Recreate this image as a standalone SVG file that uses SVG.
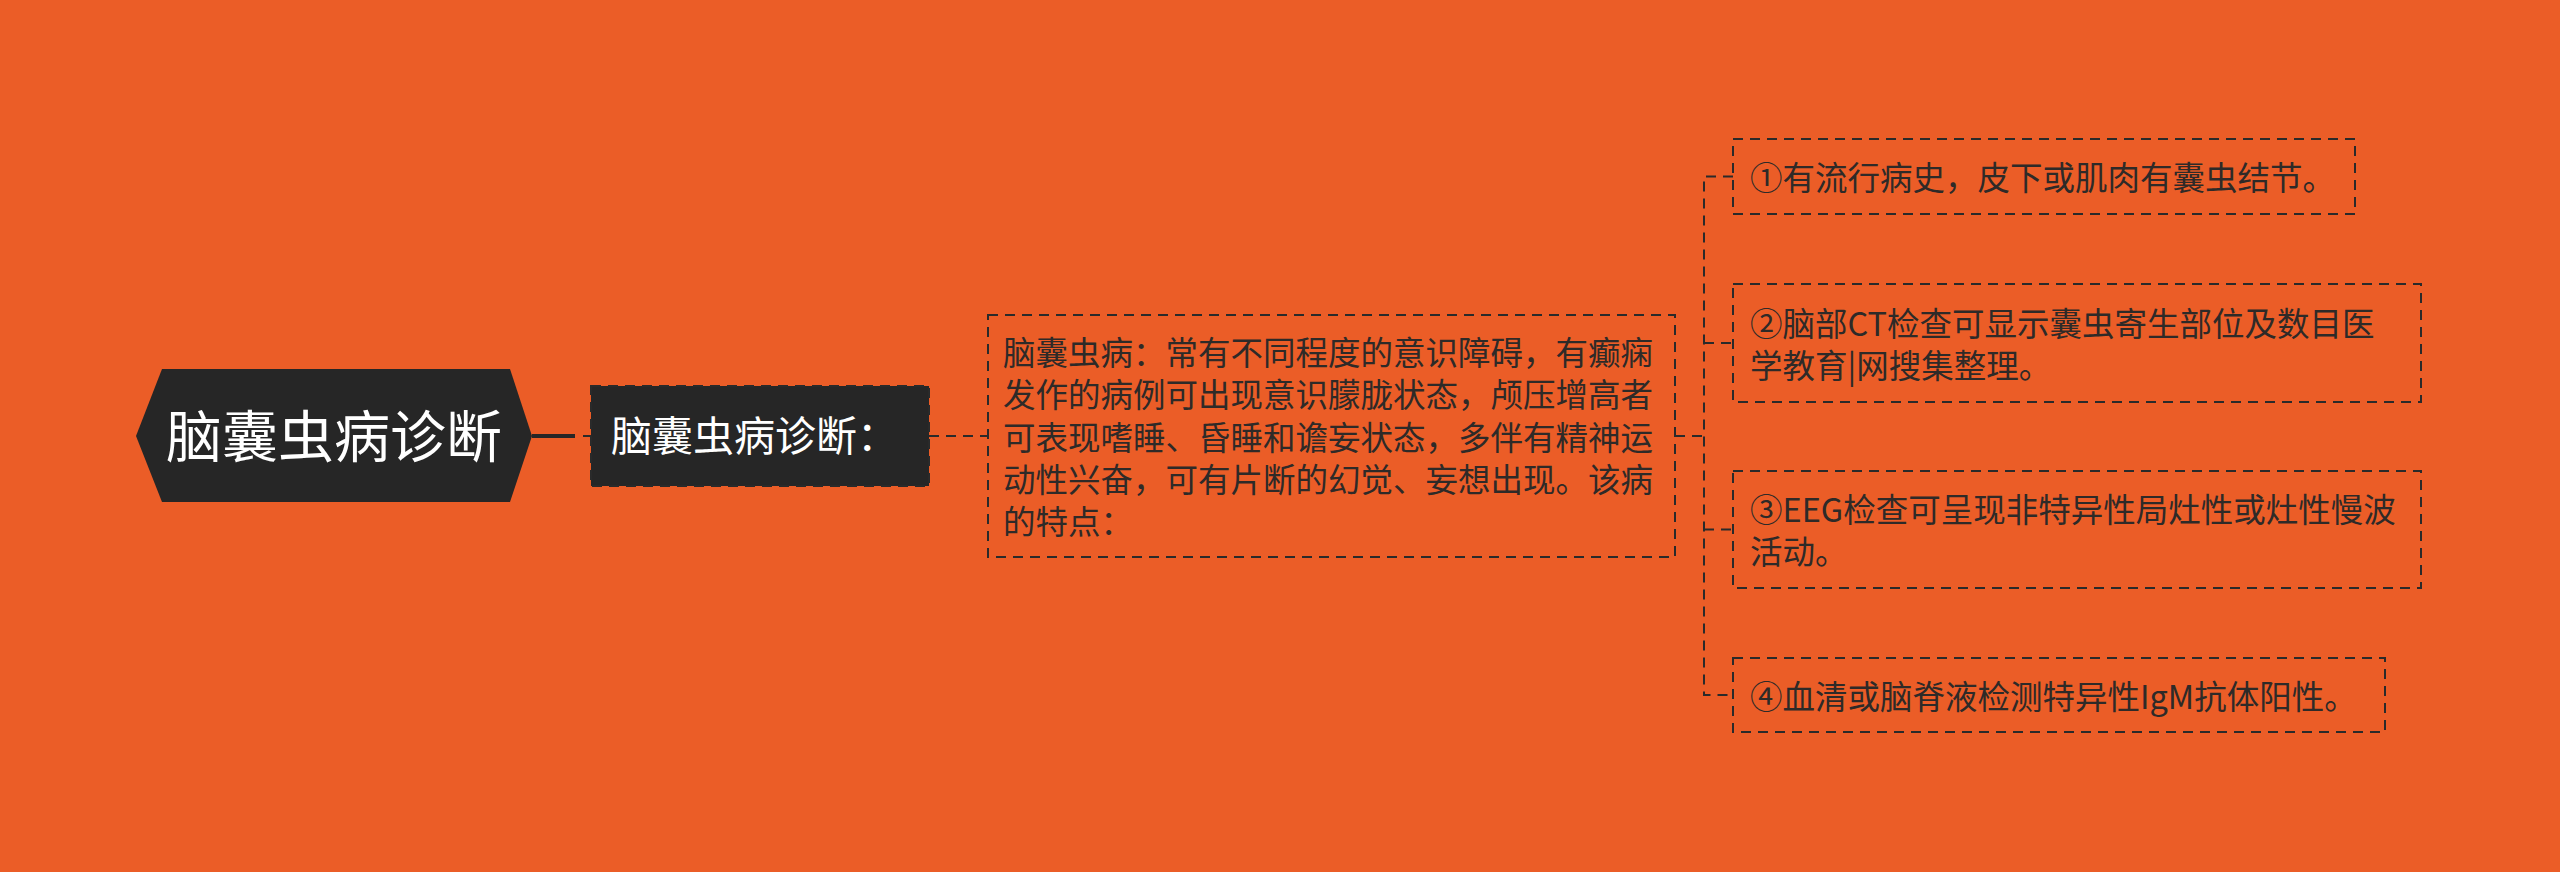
<svg xmlns="http://www.w3.org/2000/svg" width="2560" height="872" viewBox="0 0 2560 872">
<style>
.t{font-family:"Noto Sans CJK SC","Noto Sans",sans-serif;}
.body{font-size:32.5px;fill:#2e2a28;}
.box{fill:none;stroke:#2a2a2a;stroke-width:2;stroke-dasharray:10 7;}
.conn{fill:none;stroke:#2a2a2a;stroke-width:2;stroke-dasharray:10 7;}
</style>
<rect width="2560" height="872" fill="#EB5D27"/>
<g id="connectors">
<path d="M532 436 H575" stroke="#262626" stroke-width="4" fill="none"/>
<path class="conn" d="M583 436 H591"/>
<path class="conn" d="M929 436 H988"/>
<path class="conn" d="M1675 436 H1704"/>
<path class="conn" d="M1733 176.5 H1704 V695 H1733"/>
<path class="conn" d="M1704 343 H1733"/>
<path class="conn" d="M1704 529.5 H1733"/>
</g>
<g id="root">
<polygon points="136,436 162,369 510,369 532,436 510,502 162,502" fill="#262626"/>
<text class="t" x="334" y="457" font-size="56" fill="#ffffff" text-anchor="middle">脑囊虫病诊断</text>
</g>
<g id="n1">
<rect x="591" y="386" width="338" height="100" fill="#262626"/>
<rect class="box" x="591" y="386" width="338" height="100"/>
<text class="t" x="611" y="451" font-size="41" fill="#ffffff">脑囊虫病诊断：</text>
</g>
<g id="n2">
<rect class="box" x="988" y="315" width="687" height="242"/>
<text class="t body" x="1003" y="365">脑囊虫病：常有不同程度的意识障碍，有癫痫</text>
<text class="t body" x="1003" y="407.3">发作的病例可出现意识朦胧状态，颅压增高者</text>
<text class="t body" x="1003" y="449.6">可表现嗜睡、昏睡和谵妄状态，多伴有精神运</text>
<text class="t body" x="1003" y="491.9">动性兴奋，可有片断的幻觉、妄想出现。该病</text>
<text class="t body" x="1003" y="534.2">的特点：</text>
</g>
<g id="c1">
<rect class="box" x="1733" y="139" width="622" height="75"/>
<text class="t body" x="1750" y="190">①有流行病史，皮下或肌肉有囊虫结节。</text>
</g>
<g id="c2">
<rect class="box" x="1733" y="284" width="688" height="118"/>
<text class="t body" x="1750" y="335.5">②脑部CT检查可显示囊虫寄生部位及数目医</text>
<text class="t body" x="1750" y="377.8">学教育|网搜集整理。</text>
</g>
<g id="c3">
<rect class="box" x="1733" y="471" width="688" height="117"/>
<text class="t body" x="1750" y="522">③EEG检查可呈现非特异性局灶性或灶性慢波</text>
<text class="t body" x="1750" y="564.3">活动。</text>
</g>
<g id="c4">
<rect class="box" x="1733" y="658" width="652" height="74"/>
<text class="t body" x="1750" y="709">④血清或脑脊液检测特异性IgM抗体阳性。</text>
</g>
</svg>
